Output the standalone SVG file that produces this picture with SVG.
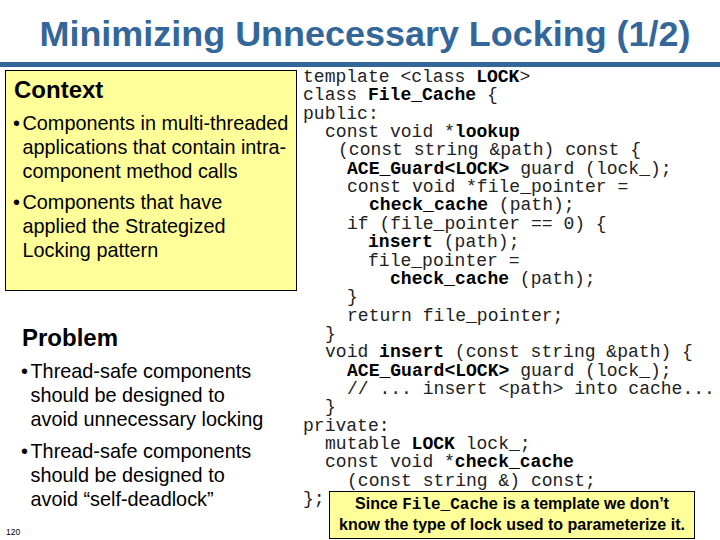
<svg xmlns="http://www.w3.org/2000/svg" width="720" height="540" viewBox="0 0 720 540">
<style>
.s{font-family:"Liberation Sans",Arial,sans-serif;font-size:19.850px;fill:#000}
.h{font-family:"Liberation Sans",Arial,sans-serif;font-size:24px;font-weight:bold;fill:#000}
.c{font-family:"Liberation Mono","Courier New",monospace;font-size:18.050px;fill:#222;white-space:pre}
.c tspan{font-weight:bold;fill:#000}
.n{font-family:"Liberation Sans",Arial,sans-serif;font-size:16px;font-weight:bold;fill:#000}
.box{fill:#ffff99;stroke:#000;stroke-width:1}
</style>
<rect width="720" height="540" fill="#fff"/>
<g id="title">
<text x="39.500" y="46" font-family="'Liberation Sans',Arial,sans-serif" font-size="35px" font-weight="bold" fill="#336699" textLength="651" lengthAdjust="spacingAndGlyphs">Minimizing Unnecessary Locking (1/2)</text>
<rect x="0" y="62" width="720" height="5" fill="#336699"/>
</g>
<g id="context">
<rect class="box" x="5.500" y="70.500" width="291" height="220"/>
<text class="h" x="14" y="98">Context</text>
<text class="s" x="13" y="130">•</text>
<text class="s" x="22.500" y="130">Components in multi-threaded</text>
<text class="s" x="22.500" y="154">applications that contain intra-</text>
<text class="s" x="22.500" y="178">component method calls</text>
<text class="s" x="13" y="209">•</text>
<text class="s" x="22.500" y="209">Components that have</text>
<text class="s" x="22.500" y="233">applied the Strategized</text>
<text class="s" x="22.500" y="257">Locking pattern</text>
</g>
<g id="problem">
<text class="h" x="22" y="346">Problem</text>
<text class="s" x="21" y="378">•</text>
<text class="s" x="30.500" y="378">Thread-safe components</text>
<text class="s" x="30.500" y="402">should be designed to</text>
<text class="s" x="30.500" y="426">avoid unnecessary locking</text>
<text class="s" x="21" y="458">•</text>
<text class="s" x="30.500" y="458">Thread-safe components</text>
<text class="s" x="30.500" y="482">should be designed to</text>
<text class="s" x="30.500" y="506">avoid “self-deadlock”</text>
</g>
<g id="code">
<text class="c" x="303" y="82">template &lt;class <tspan>LOCK</tspan>&gt;</text>
<text class="c" x="303" y="100.300">class <tspan>File_Cache</tspan> {</text>
<text class="c" x="303" y="118.700">public:</text>
<text class="c" x="325" y="137">const void *<tspan>lookup</tspan></text>
<text class="c" x="338" y="155.400">(const string &amp;path) const {</text>
<text class="c" x="347" y="173.700"><tspan>ACE_Guard&lt;LOCK&gt;</tspan> guard (lock_);</text>
<text class="c" x="347" y="192.100">const void *file_pointer =</text>
<text class="c" x="369" y="210.400"><tspan>check_cache</tspan> (path);</text>
<text class="c" x="347" y="228.800">if (file_pointer == 0) {</text>
<text class="c" x="368" y="247.100"><tspan>insert</tspan> (path);</text>
<text class="c" x="368" y="265.500">file_pointer =</text>
<text class="c" x="390" y="283.800"><tspan>check_cache</tspan> (path);</text>
<text class="c" x="347" y="302.200">}</text>
<text class="c" x="347" y="320.500">return file_pointer;</text>
<text class="c" x="325" y="338.900">}</text>
<text class="c" x="325" y="357.200">void <tspan>insert</tspan> (const string &amp;path) {</text>
<text class="c" x="347" y="375.600"><tspan>ACE_Guard&lt;LOCK&gt;</tspan> guard (lock_);</text>
<text class="c" x="347" y="393.900">// ... insert &lt;path&gt; into cache...</text>
<text class="c" x="325" y="412.300">}</text>
<text class="c" x="303" y="430.600">private:</text>
<text class="c" x="325" y="449">mutable <tspan>LOCK</tspan> lock_;</text>
<text class="c" x="325" y="467.300">const void *<tspan>check_cache</tspan></text>
<text class="c" x="347" y="485.700">(const string &amp;) const;</text>
<text class="c" x="303" y="504">};</text>
</g>
<g id="note">
<rect class="box" x="329.500" y="491.500" width="365" height="47"/>
<text class="n" x="512" y="509" text-anchor="middle">Since <tspan font-family="'Liberation Mono',monospace">File_Cache</tspan> is a template we don’t</text>
<text class="n" x="512" y="530" text-anchor="middle">know the type of lock used to parameterize it.</text>
</g>
<g id="page">
<text x="6" y="535" font-family="'Liberation Sans',Arial,sans-serif" font-size="8.500px" fill="#000">120</text>
</g>
</svg>
